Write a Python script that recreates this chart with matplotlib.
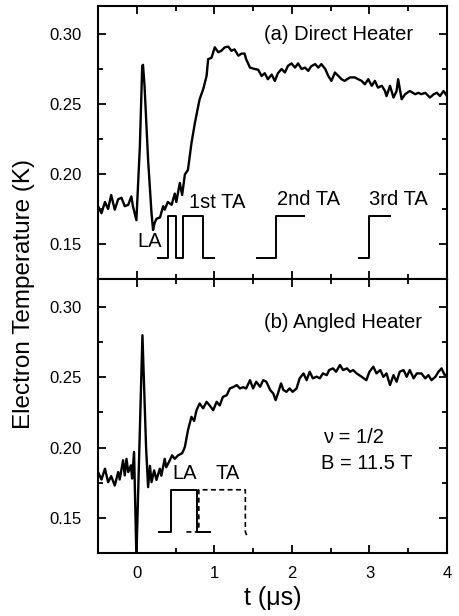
import matplotlib
matplotlib.use("Agg")
import matplotlib.pyplot as plt
from matplotlib.ticker import MultipleLocator, FormatStrFormatter

plt.rcParams['font.family'] = ['Liberation Sans', 'DejaVu Sans']

# ---- data: panel (a) Direct Heater ----
t_a = [-0.50,-0.455,-0.41,-0.37,-0.33,-0.284,-0.24,-0.197,-0.155,-0.11,
       -0.07,-0.05,-0.005,0.04,0.07,0.08,0.10,0.146,0.19,0.21,
       0.23,0.254,0.30,0.34,0.36,0.40,0.45,0.49,0.51,0.555,
       0.585,0.62,0.66,0.705,0.75,0.81,0.856,0.90,0.92,0.963,
       1.006,1.05,1.09,1.135,1.18,1.22,1.26,1.31,1.35,1.39,
       1.41,1.46,1.52,1.565,1.61,1.65,1.69,1.74,1.78,1.82,
       1.867,1.91,1.95,1.995,2.04,2.08,2.125,2.17,2.21,2.25,
       2.30,2.34,2.38,2.43,2.47,2.51,2.555,2.60,2.64,2.68,
       2.75,2.81,2.855,2.90,2.94,2.985,3.03,3.07,3.11,3.16,
       3.20,3.22,3.265,3.31,3.35,3.37,3.415,3.46,3.52,3.59,
       3.63,3.67,3.72,3.78,3.83,3.87,3.91,3.955,4.0]
T_a = [0.177,0.172,0.180,0.175,0.185,0.1745,0.182,0.183,0.177,0.178,
       0.184,0.177,0.167,0.220,0.277,0.278,0.263,0.210,0.172,0.160,
       0.165,0.168,0.169,0.177,0.1745,0.180,0.178,0.186,0.180,0.1936,
       0.185,0.1996,0.203,0.222,0.2367,0.2534,0.2605,0.270,0.282,0.283,
       0.2905,0.287,0.288,0.2905,0.291,0.288,0.289,0.2845,0.286,0.286,
       0.282,0.276,0.275,0.2745,0.270,0.272,0.2677,0.271,0.2665,0.272,
       0.275,0.2725,0.2773,0.279,0.276,0.279,0.275,0.276,0.2737,0.277,
       0.2785,0.276,0.2785,0.275,0.270,0.2665,0.2725,0.270,0.2677,0.2665,
       0.269,0.269,0.2677,0.2665,0.2641,0.2677,0.263,0.2665,0.2617,0.263,
       0.2593,0.2556,0.263,0.2546,0.2593,0.2677,0.2534,0.257,0.2593,0.257,
       0.258,0.257,0.258,0.2546,0.257,0.258,0.2557,0.2593,0.2557]

# ---- data: panel (b) Angled Heater ----
t_b = [-0.50,-0.455,-0.41,-0.37,-0.33,-0.284,-0.24,-0.22,-0.177,-0.155,
       -0.133,-0.11,-0.075,-0.06,-0.035,-0.005,0.073,0.103,0.12,0.146,
       0.17,0.19,0.224,0.254,0.297,0.317,0.36,0.38,0.426,0.455,
       0.49,0.533,0.585,0.62,0.66,0.705,0.74,0.77,0.81,0.856,
       0.90,0.94,0.985,1.03,1.07,1.11,1.16,1.20,1.24,1.29,
       1.33,1.37,1.41,1.46,1.50,1.54,1.59,1.63,1.67,1.72,
       1.76,1.79,1.82,1.86,1.89,1.93,1.97,2.01,2.06,2.10,
       2.15,2.19,2.23,2.27,2.32,2.36,2.40,2.45,2.48,2.53,
       2.57,2.62,2.66,2.71,2.75,2.79,2.835,2.90,2.96,3.00,
       3.05,3.09,3.14,3.18,3.22,3.265,3.31,3.35,3.39,3.44,
       3.48,3.52,3.57,3.61,3.67,3.72,3.76,3.80,3.85,3.89,
       3.93,3.97,4.0]
T_b = [0.1826,0.1773,0.185,0.1754,0.1797,0.173,0.1826,0.1773,0.191,0.1802,
       0.192,0.1826,0.1874,0.178,0.1969,0.122,0.280,0.229,0.200,0.1719,
       0.187,0.1754,0.1838,0.177,0.185,0.180,0.192,0.186,0.191,0.1945,
       0.192,0.1945,0.196,0.2004,0.2124,0.2219,0.219,0.2266,0.2314,0.228,
       0.2326,0.230,0.2266,0.2326,0.230,0.2361,0.2373,0.2421,0.243,0.2445,
       0.2421,0.243,0.2421,0.248,0.2421,0.2469,0.2433,0.248,0.2469,0.241,
       0.2385,0.2338,0.2385,0.2457,0.241,0.2397,0.2421,0.2397,0.2421,0.2493,
       0.2528,0.248,0.254,0.2493,0.2505,0.2493,0.2528,0.2516,0.2552,0.2564,
       0.254,0.2588,0.2552,0.2564,0.254,0.2552,0.2528,0.2504,0.248,0.254,
       0.2576,0.2528,0.2552,0.2504,0.2528,0.2445,0.2516,0.2469,0.254,0.2552,
       0.2504,0.2552,0.2493,0.2528,0.2528,0.2493,0.2516,0.248,0.2504,0.254,
       0.2564,0.2516,0.252]

# ---- pulse schematics ----
pulse_a_t = [0.27, 0.40, 0.40, 0.51, 0.51, 0.60, 0.60, 0.85, 0.85, 0.99]
pulse_a_y = [0.14, 0.14, 0.17, 0.17, 0.14, 0.14, 0.17, 0.17, 0.14, 0.14]
pulse_2nd_t = [1.55, 1.80, 1.80, 2.16]
pulse_2nd_y = [0.14, 0.14, 0.17, 0.17]
pulse_3rd_t = [2.86, 2.99, 2.99, 3.27]
pulse_3rd_y = [0.14, 0.14, 0.17, 0.17]
pulse_bLA_t = [0.29, 0.445, 0.445, 0.78, 0.78, 0.94]
pulse_bLA_y = [0.14, 0.14, 0.17, 0.17, 0.14, 0.14]
pulse_bTA_t = [0.64, 0.80, 0.80, 1.40, 1.40, 1.43]
pulse_bTA_y = [0.14, 0.14, 0.17, 0.17, 0.14, 0.136]

yticks = [0.15, 0.20, 0.25, 0.30]
xticks = [0, 1, 2, 3, 4]

fig = plt.figure(figsize=(4.59, 6.16), dpi=100)
L, R = 98/459, 447/459
ax1 = fig.add_axes([L, 1-279/616, R-L, (279-6)/616])
ax2 = fig.add_axes([L, 1-553/616, R-L, (553-279)/616], sharex=ax1)

for ax in (ax1, ax2):
    ax.set_xlim(-0.5, 4)
    ax.set_ylim(0.125, 0.32)
    ax.set_yticks(yticks)
    ax.yaxis.set_major_formatter(FormatStrFormatter('%.2f'))
    ax.yaxis.set_minor_locator(MultipleLocator(0.025))
    ax.xaxis.set_minor_locator(MultipleLocator(0.5))
    ax.set_xticks(xticks)
    ax.tick_params(which='both', direction='in', top=True, right=True,
                   width=1.3, labelsize=12)
    ax.tick_params(which='major', length=6)
    ax.tick_params(which='minor', length=3.5)
    ax.tick_params(axis='y', which='major', pad=12)
    ax.tick_params(axis='x', which='major', pad=9)
    for s in ax.spines.values():
        s.set_linewidth(1.5)

ax1.tick_params(labelbottom=False)

tk = dict(fontsize=14.5, va='center')

ax1.plot(t_a, T_a, color='black', lw=1.7)
ax1.plot(pulse_a_t, pulse_a_y, color='black', lw=1.4)
ax1.plot(pulse_2nd_t, pulse_2nd_y, color='black', lw=1.4)
ax1.plot(pulse_3rd_t, pulse_3rd_y, color='black', lw=1.4)
ax1.text(0.17, 0.152, 'LA', ha='center', **tk)
ax1.text(0.67, 0.180, '1st TA', ha='left', **tk)
ax1.text(1.81, 0.1816, '2nd TA', ha='left', **tk)
ax1.text(2.99, 0.1816, '3rd TA', ha='left', **tk)
ax1.text(3.56, 0.30, '(a) Direct Heater', ha='right', **tk)

ax2.plot(t_b, T_b, color='black', lw=1.7)
ax2.plot(pulse_bLA_t, pulse_bLA_y, color='black', lw=1.4)
ax2.plot(pulse_bTA_t, pulse_bTA_y, color='black', lw=1.2, ls=(0, (3, 2)))
ax2.text(0.62, 0.1816, 'LA', ha='center', **tk)
ax2.text(1.17, 0.1816, 'TA', ha='center', **tk)
ax2.text(3.68, 0.289, '(b) Angled Heater', ha='right', **tk)
ax2.text(2.40, 0.2074, 'ν = 1/2', ha='left', **tk)
ax2.text(2.37, 0.1888, 'B = 11.5 T', ha='left', **tk)

fig.text((L + R) / 2, 1 - 598/616, 't (μs)', ha='center', va='center',
         fontsize=18)
fig.text(24/459, 1 - 294/616, 'Electron Temperature (K)',
         rotation=90, va='center', ha='center', fontsize=17.5)

fig.savefig('out.png', dpi=100)
